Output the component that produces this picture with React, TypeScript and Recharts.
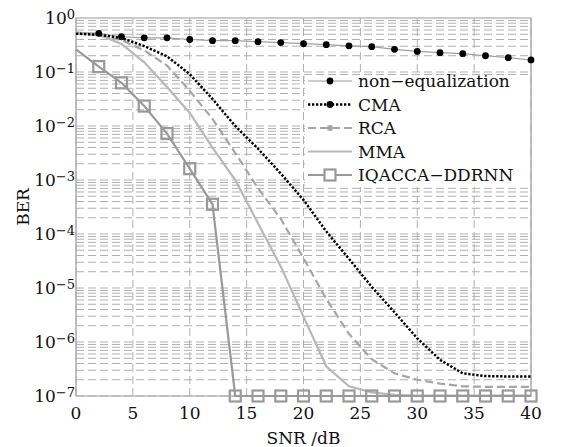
import * as React from "react";
import {
  LineChart,
  Line,
  XAxis,
  YAxis,
  ReferenceArea,
  ReferenceLine,
  Legend,
  Label,
} from "recharts";

// SNR sweep (dB) and bit error rate of each equalizer
const snrDb = [0, 2, 4, 6, 8, 10, 12, 14, 16, 18, 20, 22, 24, 26, 28, 30, 32, 34, 36, 38, 40];

const berNoEq = [
  0.55, 0.52, 0.45, 0.43, 0.43, 0.4, 0.38, 0.38, 0.365, 0.35, 0.335, 0.32, 0.305, 0.295, 0.263,
  0.24, 0.228, 0.218, 0.2, 0.184, 0.167,
];
const berCma = [
  0.513, 0.49, 0.427, 0.302, 0.195, 0.0912, 0.0316, 0.01, 0.0038, 0.00132, 4.27e-4, 1.12e-4,
  3.47e-5, 1.05e-5, 3.55e-6, 1.17e-6, 4.68e-7, 2.63e-7, 2.34e-7, 2.3e-7, 2.3e-7,
];
const berRca = [
  0.513, 0.479, 0.389, 0.251, 0.132, 0.0447, 0.0135, 0.00316, 7.08e-4, 1.91e-4, 3.55e-5, 6.31e-6,
  1.41e-6, 4.79e-7, 2.63e-7, 2.0e-7, 1.7e-7, 1.51e-7, 1.48e-7, 1.48e-7, 1.48e-7,
];
const berMma = [
  0.537, 0.49, 0.331, 0.151, 0.0525, 0.0174, 0.00398, 0.001, 1.58e-4, 2.51e-5, 2.95e-6, 3.55e-7,
  1.51e-7, 1.17e-7, 1.05e-7, 1.02e-7, 1.02e-7, 1.02e-7, 1.02e-7, 1.02e-7, 1.02e-7,
];
const berProposed = [
  0.263, 0.126, 0.063, 0.0234, 0.00724, 0.00162, 3.55e-4, 1e-7, 1e-7, 1e-7, 1e-7, 1e-7, 1e-7,
  1e-7, 1e-7, 1e-7, 1e-7, 1e-7, 1e-7, 1e-7, 1e-7,
];

const seriesNames = ["non\u2212equalization", "CMA", "RCA", "MMA", "IQACCA\u2212DDRNN"];

const xTicks = [0, 5, 10, 15, 20, 25, 30, 35, 40];
const yTicks = [1e-7, 1e-6, 1e-5, 1e-4, 1e-3, 1e-2, 1e-1, 1];

// log grid: every 1..9 x 10^k over the seven decades
const gridY: number[] = [];
for (let e = -7; e < 0; e++) {
  for (let m = 1; m < 10; m++) gridY.push(m * Math.pow(10, e));
}

const SERIF = "'DejaVu Serif', 'Liberation Serif', serif";
const INK = "#111";
const GRID = "#b0b0b0";

const rows = snrDb.map((snr, i) => ({
  snr,
  noEq: berNoEq[i],
  cma: berCma[i],
  rca: berRca[i],
  mma: berMma[i],
  proposed: berProposed[i],
}));

function PowerTick(props: any) {
  const { x, y, payload } = props;
  const exp = Math.round(Math.log10(payload.value));
  const sup = exp < 0 ? `\u2212${-exp}` : `${exp}`;
  return (
    <text x={x} y={y + 6} textAnchor="end" fill={INK} fontFamily={SERIF} fontSize={17}>
      10
      <tspan fontSize={13} dy={-5}>
        {sup}
      </tspan>
    </text>
  );
}

function SnrTick(props: any) {
  const { x, y, payload } = props;
  return (
    <text x={x} y={y + 23} textAnchor="middle" fill={INK} fontFamily={SERIF} fontSize={17}>
      {payload.value}
    </text>
  );
}

function DotMarker(props: any) {
  const { cx, cy, payload, index } = props;
  if (payload.snr === 0) return <g key={`d${index}`} />;
  return <circle key={`d${index}`} cx={cx} cy={cy} r={3.4} fill="#000" />;
}

function SquareMarker(props: any) {
  const { cx, cy, payload, index } = props;
  if (payload.snr === 0) return <g key={`s${index}`} />;
  return (
    <rect
      key={`s${index}`}
      x={cx - 5.5}
      y={cy - 5.5}
      width={11}
      height={11}
      fill="none"
      stroke="#999"
      strokeWidth={2.2}
    />
  );
}

function renderLegend() {
  const rowY = (i: number) => 6 + i * 23.5;
  return (
    <svg width={224} height={112} style={{ overflow: "visible", display: "block" }}>
      {seriesNames.map((name, i) => {
        const cy = rowY(i);
        let sample: React.ReactNode = null;
        if (i === 0) {
          sample = (
            <g>
              <line x1={3} x2={47} y1={cy} y2={cy} stroke="#999" strokeWidth={1.2} />
              <circle cx={25} cy={cy} r={3.4} fill="#000" />
            </g>
          );
        } else if (i === 1) {
          sample = (
            <g>
              <line x1={3} x2={47} y1={cy} y2={cy} stroke="#000" strokeWidth={2.5} strokeDasharray="2.3 1.7" />
              <circle cx={25} cy={cy} r={3.4} fill="#000" />
            </g>
          );
        } else if (i === 2) {
          sample = (
            <g>
              <line x1={3} x2={47} y1={cy} y2={cy} stroke="#a6a6a6" strokeWidth={2.2} strokeDasharray="8 4" />
              <circle cx={25} cy={cy} r={3} fill="#a6a6a6" />
            </g>
          );
        } else if (i === 3) {
          sample = <line x1={3} x2={47} y1={cy} y2={cy} stroke="#b8b8b8" strokeWidth={2.2} />;
        } else {
          sample = (
            <g>
              <line x1={3} x2={47} y1={cy} y2={cy} stroke="#999" strokeWidth={2.2} />
              <rect x={19.5} y={cy - 5.5} width={11} height={11} fill="#fff" stroke="#999" strokeWidth={2.2} />
            </g>
          );
        }
        return (
          <g key={name}>
            {sample}
            <text x={53} y={cy + 6} fill={INK} fontFamily={SERIF} fontSize={17}>
              {name}
            </text>
          </g>
        );
      })}
    </svg>
  );
}

export default function App() {
  return (
    <LineChart
      width={545}
      height={439}
      data={rows}
      margin={{ top: 10, right: 22, left: 8, bottom: 0 }}
    >
      <XAxis
        dataKey="snr"
        type="number"
        domain={[0, 40]}
        ticks={xTicks}
        height={51}
        tickSize={0}
        tickMargin={0}
        axisLine={false}
        tick={SnrTick}
      >
        <Label
          content={({ viewBox }: any) => (
            <text
              x={viewBox.x + viewBox.width / 2}
              y={viewBox.y + viewBox.height - 3}
              textAnchor="middle"
              fill={INK}
              fontFamily={SERIF}
              fontSize={17}
            >
              SNR /dB
            </text>
          )}
        />
      </XAxis>
      <YAxis
        type="number"
        scale="log"
        domain={[1e-7, 1]}
        ticks={yTicks}
        width={60}
        tickSize={0}
        tickMargin={1}
        axisLine={false}
        tick={PowerTick}
      >
        <Label
          content={({ viewBox }: any) => {
            const cx = viewBox.x + 7;
            const cy = viewBox.y + viewBox.height / 2;
            return (
              <text
                x={cx}
                y={cy}
                transform={`rotate(-90 ${cx} ${cy})`}
                textAnchor="middle"
                dominantBaseline="central"
                fill={INK}
                fontFamily={SERIF}
                fontSize={17}
              >
                BER
              </text>
            );
          }}
        />
      </YAxis>
      {gridY.map((v) => (
        <ReferenceLine
          key={`gy${v}`}
          y={v}
          stroke={GRID}
          strokeWidth={1}
          strokeDasharray="8 4"
        />
      ))}
      {xTicks.map((v) => (
        <ReferenceLine
          key={`gx${v}`}
          x={v}
          stroke={GRID}
          strokeWidth={1}
          strokeDasharray="8 4"
        />
      ))}
      <ReferenceArea
        x1={0}
        x2={40}
        y1={1e-7}
        y2={1}
        fill="none"
        stroke="#999"
        strokeWidth={1.2}
      />
      <Line
        dataKey="noEq"
        type="linear"
        stroke="#a0a0a0"
        strokeWidth={1.2}
        dot={DotMarker}
        activeDot={false}
        isAnimationActive={false}
      />
      <Line
        dataKey="rca"
        type="linear"
        stroke="#a6a6a6"
        strokeWidth={2.2}
        strokeDasharray="8 4"
        dot={false}
        activeDot={false}
        isAnimationActive={false}
      />
      <Line
        dataKey="mma"
        type="linear"
        stroke="#b8b8b8"
        strokeWidth={2.2}
        dot={false}
        activeDot={false}
        isAnimationActive={false}
      />
      <Line
        dataKey="cma"
        type="linear"
        stroke="#000"
        strokeWidth={2.5}
        strokeDasharray="2.3 1.7"
        dot={false}
        activeDot={false}
        isAnimationActive={false}
      />
      <Line
        dataKey="proposed"
        type="linear"
        stroke="#999"
        strokeWidth={2.2}
        dot={SquareMarker}
        activeDot={false}
        isAnimationActive={false}
      />
      <Legend
        layout="vertical"
        align="center"
        verticalAlign="middle"
        content={renderLegend}
        wrapperStyle={{
          left: 297,
          top: 67,
          width: 224,
          height: 112,
          background: "#fff",
        }}
      />
    </LineChart>
  );
}
